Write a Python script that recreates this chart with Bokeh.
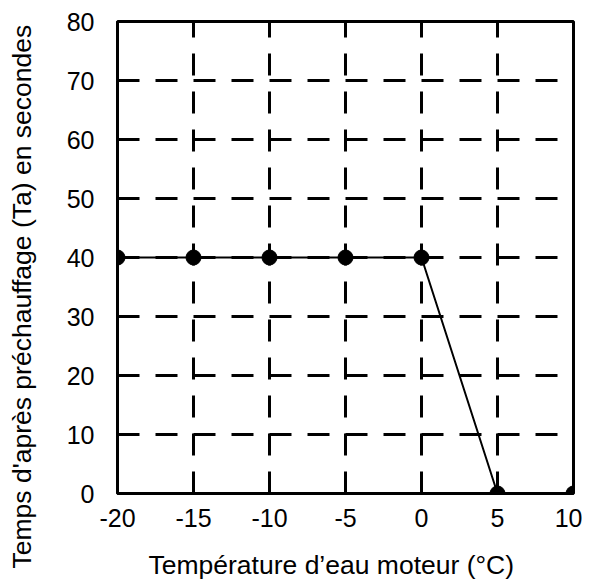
from bokeh.plotting import figure
from bokeh.embed import file_html
from bokeh.resources import INLINE
from bokeh.models import FixedTicker, Range1d, Title

temps = [-20, -15, -10, -5, 0, 5, 10]
times = [40, 40, 40, 40, 40, 0, 0]
x_ticks = [-20, -15, -10, -5, 0, 5, 10]
y_ticks = [0, 10, 20, 30, 40, 50, 60, 70, 80]
x_title = "Température d\u2019eau moteur (°C)"
y_title = "Temps d'après préchauffage (Ta) en secondes"

FONT = "Liberation Sans"

p = figure(width=582, height=588, output_backend="svg", toolbar_location=None,
           x_range=Range1d(-20, 10), y_range=Range1d(0, 80),
           min_border_left=117, min_border_right=9, min_border_top=21, min_border_bottom=95)
p.outline_line_color = "black"
p.outline_line_width = 3
p.background_fill_color = "white"
p.border_fill_color = "white"

for ax in (p.xaxis[0], p.yaxis[0]):
    ax.axis_line_width = 3
    ax.axis_line_color = "black"
    ax.major_tick_line_color = None
    ax.minor_tick_line_color = None
    ax.major_label_text_font = FONT
    ax.major_label_text_font_size = "25px"
    ax.major_label_text_color = "black"

p.xaxis.ticker = FixedTicker(ticks=x_ticks)
p.yaxis.ticker = FixedTicker(ticks=y_ticks)
p.xaxis.major_label_overrides = {t: str(t) for t in x_ticks}
p.yaxis.major_label_overrides = {t: str(t) for t in y_ticks}
p.xaxis.major_label_standoff = 9
p.yaxis.major_label_standoff = 17

for g in (p.xgrid[0], p.ygrid[0]):
    g.grid_line_color = "black"
    g.grid_line_width = 3
    g.grid_line_dash = "22 16"
    g.grid_line_alpha = 1.0

p.line(temps, times, line_color="black", line_width=2)
p.scatter(temps, times, size=15, fill_color="black", line_color="black")

# an empty first/last line pushes each title away from the frame
xt = Title(text="\n" + x_title, align="left", offset=31, standoff=0, text_line_height=0.63,
           text_font=FONT, text_font_size="26.5px", text_font_style="normal", text_color="black")
p.add_layout(xt, "below")
yt = Title(text=y_title + "\n", align="left", offset=-75, standoff=0, text_line_height=0.87,
           text_font=FONT, text_font_size="26.5px", text_font_style="normal", text_color="black")
p.add_layout(yt, "left")

open("out.html", "w").write(file_html(p, INLINE))
